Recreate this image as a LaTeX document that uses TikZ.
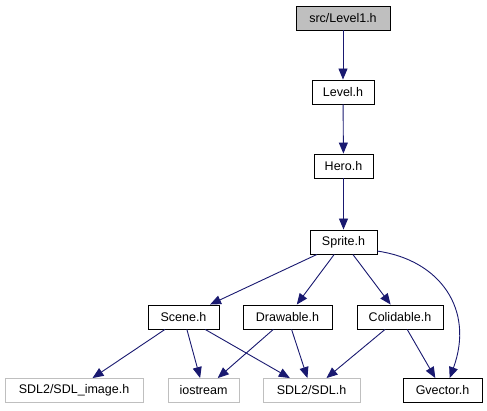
\documentclass[tikz,border=0pt]{standalone}
\usepackage{fontspec}
\setmainfont{Liberation Sans}
\usetikzlibrary{arrows.meta, positioning}
\definecolor{edgeblue}{HTML}{191970}
\definecolor{lightframe}{HTML}{BFBFBF}

\tikzset{
  file/.style={draw=black, line width=0.9pt, inner sep=0pt, minimum height=24pt,
    font=\fontsize{12.5}{14}\selectfont},
  sysfile/.style={file, draw=lightframe},
  dep/.style={edgeblue, line width=0.9pt, -{Triangle[length=11pt,width=9pt]}},
}

\begin{document}
\begin{tikzpicture}[x=1pt, y=-1pt]
  \useasboundingbox (0,0) rectangle (487,411);

  % Dateien
  \node[file, fill=lightframe, minimum width=94pt] (level1) at (343,18) {src/Level1.h};
  \node[file, minimum width=62pt] (level) at (343,92) {Level.h};
  \node[file, minimum width=59pt] (hero) at (343.5,166) {Hero.h};
  \node[file, minimum width=67pt] (sprite) at (343.5,242) {Sprite.h};
  \node[file, minimum width=71pt] (scene) at (183.5,317) {Scene.h};
  \node[file, minimum width=89pt] (drawable) at (287.5,317) {Drawable.h};
  \node[file, minimum width=86pt] (colidable) at (400,317) {Colidable.h};
  \node[sysfile, minimum width=138pt] (sdlimage) at (74,390.5) {SDL2/SDL\_image.h};
  \node[sysfile, minimum width=71pt] (iostream) at (203.5,390.5) {iostream};
  \node[sysfile, minimum width=97pt] (sdl) at (311.5,390.5) {SDL2/SDL.h};
  \node[file, minimum width=79pt] (gvector) at (442.5,390.5) {Gvector.h};

  % Abhaengigkeiten
  \draw[dep] (level1) -- (level);
  \draw[dep] (level) -- (hero);
  \draw[dep] (hero) -- (sprite);
  \draw[dep] (sprite) -- (scene);
  \draw[dep] (sprite) -- (drawable);
  \draw[dep] (sprite) -- (colidable);
  \draw[dep] (sprite.-15) .. controls +(63,9) and +(25,-68) .. (gvector.60);
  \draw[dep] (scene) -- (sdlimage);
  \draw[dep] (scene) -- (iostream);
  \draw[dep] (scene) -- (sdl);
  \draw[dep] (drawable) -- (iostream);
  \draw[dep] (drawable) -- (sdl);
  \draw[dep] (colidable) -- (sdl);
  \draw[dep] (colidable) -- (gvector);
\end{tikzpicture}
\end{document}
